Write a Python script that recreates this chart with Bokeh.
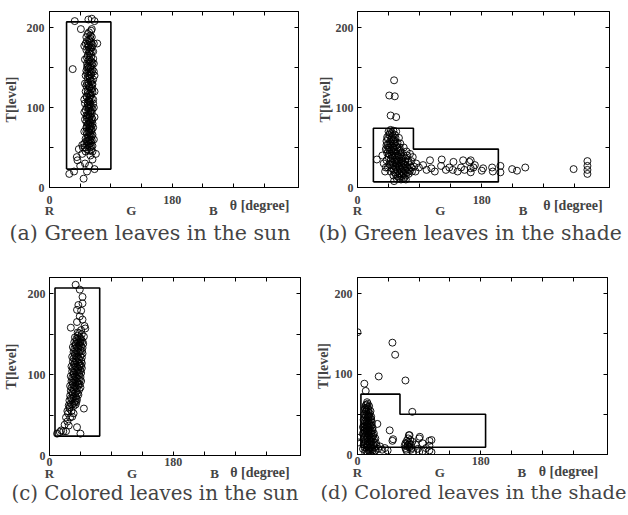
from bokeh.plotting import figure
from bokeh.layouts import column, row
from bokeh.models import LinearAxis, FixedTicker, Range1d
from bokeh.embed import file_html
from bokeh.resources import INLINE

# ---------------- data ----------------
THETA_TICKS = [0, 45, 90, 135, 180, 225, 270, 315]
THETA_LABELS = {0: "0", 180: "180"}
T_TICKS = [0, 50, 100, 150, 200]
T_LABELS = {0: "0", 100: "100", 200: "200"}
HUE_TICKS = [0, 120, 240]
HUE_LABELS = {0: "R", 120: "G", 240: "B"}
X_LABEL = "θ [degree]"
Y_LABEL = "T[level]"

captions = ["(a) Green leaves in the sun", "(b) Green leaves in the shade",
            "(c) Colored leaves in the sun", "(d) Colored leaves in the shade"]

a_pts = [
    (56,192),(60,190),(62,188),(58,185),(55,183),(61,181),(63,178),(57,176),(60,174),(54,172),
    (62,170),(58,168),(56,165),(61,163),(64,161),(57,159),(59,157),(55,155),(62,153),(60,151),
    (57,149),(63,147),(58,145),(55,143),(61,141),(59,139),(56,137),(64,135),(60,133),(57,131),
    (62,129),(54,127),(59,125),(61,123),(56,121),(63,119),(58,117),(60,115),(55,113),(62,111),
    (57,109),(59,107),(64,105),(56,103),(61,101),(58,99),(53,97),(60,95),(62,93),(51,94),
    (57,91),(59,89),(55,87),(63,85),(58,83),(60,81),(56,79),(62,77),(54,75),(59,73),
    (61,71),(57,69),(55,67),(60,65),(58,63),(53,61),(62,59),(56,57),(59,55),(57,53),
    (61,51),(52,50),(49,50),(55,48),(58,46),(65,180),(52,160),(66,140),(52,130),(66,120),
    (51,110),(65,100),(52,85),(66,88),(51,70),(64,75),(53,140),(65,155),(53,180),(58,194),
    (61,196),(60,186),(58,178),(59,170),(61,158),(58,150),(60,142),(57,128),(60,118),(58,108),
    (61,96),(59,78),(58,70),(60,58),(63,66),(54,90),(63,129),(55,150),(64,170),(62,198),
    (54,188),(59,183),(56,179),(62,175),(57,172),(60,167),(55,162),(59,160),(63,156),(56,152),
    (60,148),(54,146),(62,144),(57,140),(59,136),(62,133),(55,130),(58,126),(63,124),(56,118),
    (61,116),(54,114),(59,112),(64,110),(56,106),(60,104),(58,102),(55,100),(63,98),(57,96),
    (60,92),(56,90),(62,87),(58,86),(54,82),(61,84),(57,80),(63,80),(55,76),(60,76),
    (58,74),(62,72),(54,70),(59,68),(62,64),(56,62),(59,60),(54,58),(61,56),(57,59),
    (63,52),(55,53),(59,50),(53,45),(61,47),(51,55),(65,60),(65,145),(53,120),(52,105),
    (37,208),(46,198),(57,210),(62,211),(66,208),(34,148),(51,177),(70,180),(29,17),(36,20),
    (50,11),(41,34),(63,35),(66,23),(43,48),(48,53),(58,27),(45,27),(52,30),(60,40),
    (68,42),(40,38),(55,20),(63,45),(48,42),
]

b_pts = [
    (53,134),(46,115),(54,114),(48,90),(56,88),
    (45,70),(48,72),(52,71),(50,68),(46,66),(54,66),(43,63),(49,62),(55,62),(42,58),
    (47,57),(52,58),(58,56),(44,53),(50,52),(56,52),(61,50),(41,48),(46,47),(53,47),
    (59,46),(64,44),(43,43),(49,42),(55,42),(62,41),(67,40),(45,38),(51,37),(57,37),
    (63,36),(70,36),(42,34),(48,33),(54,32),(60,32),(66,31),(73,31),(46,29),(52,28),
    (58,28),(64,27),(70,27),(76,28),(44,25),(50,24),(56,23),(62,23),(68,22),(74,23),
    (48,20),(54,19),(60,18),(66,18),(72,19),(79,20),(52,15),(58,14),(64,14),(70,15),
    (57,11),(63,10),(68,12),(61,25),(55,35),(59,40),(51,45),(47,50),(53,55),(49,60),
    (47,68),(51,65),(44,61),(53,60),(48,55),(55,57),(45,50),(58,50),(52,50),(49,46),
    (56,45),(62,46),(46,42),(53,40),(60,38),(65,37),(48,36),(58,34),(64,33),(69,33),
    (51,31),(57,30),(63,30),(68,29),(74,33),(48,28),(55,26),(60,27),(66,25),(72,25),
    (52,22),(58,21),(64,20),(70,21),(76,21),(55,17),(61,16),(67,16),(74,17),(60,12),
    (66,11),(50,40),(43,47),(42,53),(56,70),(60,62),(62,55),(67,50),(72,40),(78,25),
    (80,38),(78,33),(82,26),(76,42),(71,45),
    (28,35),(41,25),(53,8),(70,10),(38,30),(36,40),(40,20),(85,30),(89,25),(84,20),
    (95,28),(100,22),
    (105,34),(107,24),(112,20),(122,35),(121,27),(128,22),(133,25),(139,32),(138,22),(145,20),
    (150,25),(153,34),(155,22),(162,32),(164,34),(164,24),(164,19),(168,25),(170,28),(180,21),
    (182,24),(195,25),(196,20),(207,27),(207,19),(224,23),(231,21),(243,25),(313,23),(333,33),
    (333,27),(333,22),(333,17),
]

c_pts = [
    (11,27),(15,29),(20,30),(24,30),(17,31),(28,37),(40,35),(45,27),(22,38),(26,42),
    (24,47),(30,47),(27,52),(33,48),(26,55),(29,58),(32,55),(35,52),(50,58),
    (28,62),(31,64),(35,61),(38,63),(29,68),(33,70),(37,67),(40,69),(30,74),(34,76),
    (38,73),(42,75),(31,80),(35,82),(39,79),(43,81),(30,86),(34,88),(38,85),(42,87),
    (45,84),(32,92),(36,94),(40,91),(44,93),(31,98),(35,100),(39,97),(43,99),(46,102),
    (33,104),(37,106),(41,103),(45,105),(32,110),(36,112),(40,109),(44,111),(47,114),(34,116),
    (38,118),(42,115),(46,117),(33,122),(37,124),(41,121),(45,123),(48,126),(35,128),(39,130),
    (43,127),(47,129),(34,134),(38,136),(42,133),(46,135),(49,138),(36,140),(40,142),(44,139),
    (48,141),(37,146),(41,148),(45,145),(50,147),(43,151),
    (29,60),(33,63),(36,65),(39,66),(31,71),(35,72),(39,71),(33,78),(37,77),(41,77),
    (32,84),(36,86),(40,83),(44,88),(34,90),(38,92),(42,89),(46,92),(33,96),(37,98),
    (41,95),(45,97),(35,102),(39,104),(43,102),(47,108),(34,108),(38,110),(42,107),(46,111),
    (36,114),(40,116),(44,113),(35,120),(39,122),(43,119),(47,121),(37,126),(41,128),(45,130),
    (36,132),(40,134),(44,136),(48,133),(38,138),(42,140),(46,143),(39,144),(43,146),(47,150),
    (41,152),(45,140),
    (46,155),(51,160),(31,158),(40,165),(48,168),(44,172),(40,180),(46,179),(48,188),(48,196),
    (44,205),(38,211),(42,186),(52,157),
]

d_pts = [
    (0,152),(51,139),(55,124),(31,97),(70,92),(10,88),(12,79),(80,53),(0,21),(2,15),
    (29,38),(52,19),(51,17),(47,30),
    (14,65),(15,63),(12,61),(17,60),(13,58),(11,56),(16,56),(19,54),(12,53),(14,50),
    (10,50),(17,49),(20,47),(11,46),(15,45),(9,43),(19,42),(13,40),(21,40),(10,38),
    (15,37),(19,35),(8,34),(13,33),(22,33),(16,31),(10,30),(20,29),(14,27),(8,26),
    (24,26),(17,24),(11,23),(22,22),(14,20),(26,20),(9,19),(19,17),(12,16),(24,15),
    (15,13),(27,14),(9,12),(20,11),(13,9),(25,9),(17,7),(8,7),(22,5),(13,4),
    (18,2),(11,3),(24,3),(30,7),(33,10),(36,6),(40,8),(44,5),(14,35),(16,47),
    (18,28),(11,28),(15,10),(20,20),
    (13,62),(15,59),(11,58),(16,53),(13,55),(18,51),(12,48),(15,48),(18,46),(13,43),
    (16,42),(11,41),(20,44),(14,38),(17,39),(12,36),(18,37),(10,35),(16,34),(21,36),
    (13,30),(18,31),(11,32),(22,30),(15,29),(20,26),(12,25),(16,26),(23,24),(14,22),
    (19,22),(10,21),(17,19),(24,19),(12,18),(21,16),(15,16),(18,13),(11,14),(23,12),
    (14,11),(20,9),(16,5),(21,7),(10,9),(26,5),(19,4),(15,2),(28,11),
    (75,24),(90,20),(105,17),(105,11),(105,5),(73,10),(76,14),(78,6),(81,3),(90,3),
    (70,8),(85,12),(95,14),(100,8),(108,3),(108,18),(91,22),(69,11),(80,16),(88,7),
    (95,4),(72,4),(76,24),(70,14),(72,17),(74,12),(76,9),(78,12),(71,6),(74,20),
    (77,18),(79,8),(73,15),
]

a_reg_theta = [25, 90, 90, 25, 25]
a_reg_T = [23, 23, 207, 207, 23]
b_reg_theta = [23, 23, 81, 81, 204, 204, 23]
b_reg_T = [7, 74, 74, 48, 48, 7, 7]
c_reg_theta = [8, 73, 73, 8, 8]
c_reg_T = [24, 24, 207, 207, 24]
d_reg_theta = [5, 5, 62, 62, 187, 187, 5]
d_reg_T = [9, 75, 75, 50, 50, 9, 9]

SERIF = "Liberation Serif"


def overrides(ticks, labels):
    return {t: labels.get(t, "") for t in ticks}


def label_axis(ticks, labels, size, standoff):
    ax = LinearAxis(ticker=FixedTicker(ticks=ticks, minor_ticks=[]),
                    major_label_overrides=overrides(ticks, labels))
    ax.axis_line_color = None
    ax.major_tick_line_color = None
    ax.minor_tick_line_color = None
    ax.major_tick_in = 0
    ax.major_tick_out = 0
    ax.minor_tick_in = 0
    ax.minor_tick_out = 0
    ax.major_label_standoff = standoff
    ax.major_label_text_font = SERIF
    ax.major_label_text_font_style = "bold"
    ax.major_label_text_font_size = size
    return ax


def make_panel(pts, reg_t, reg_T, caption, g):
    p = figure(frame_width=g["fw"], frame_height=g["fh"],
               min_border_left=g["l"], min_border_right=g["r"],
               min_border_top=g["t"], min_border_bottom=g["b"],
               x_range=Range1d(0, 365), y_range=Range1d(0, 220),
               output_backend="svg", toolbar_location=None,
               title=caption, title_location="below")
    p.grid.visible = False
    p.outline_line_color = "black"
    p.outline_line_width = 1
    p.background_fill_color = "white"
    p.border_fill_color = "white"

    # bottom axis: inward ticks + 0 / 180
    xa = p.xaxis[0]
    xa.ticker = FixedTicker(ticks=THETA_TICKS, minor_ticks=[])
    xa.major_label_overrides = overrides(THETA_TICKS, THETA_LABELS)
    xa.major_tick_in = 4
    xa.major_tick_out = 0
    xa.minor_tick_line_color = None
    xa.minor_tick_in = 0
    xa.minor_tick_out = 0
    xa.major_label_standoff = g["s1"]
    xa.major_label_text_font = SERIF
    xa.major_label_text_font_style = "bold"
    xa.major_label_text_font_size = "12px"
    xa.axis_line_color = "black"

    # theta label row, then R G B row
    p.add_layout(label_axis([g["xl"]], {g["xl"]: X_LABEL}, "14px", g["sth"]), "below")
    p.add_layout(label_axis(HUE_TICKS, HUE_LABELS, "13px", g["s2"]), "below")

    # left axis
    ya = p.yaxis[0]
    ya.ticker = FixedTicker(ticks=T_TICKS, minor_ticks=[])
    ya.major_label_overrides = overrides(T_TICKS, T_LABELS)
    ya.major_tick_in = 4
    ya.major_tick_out = 0
    ya.minor_tick_line_color = None
    ya.minor_tick_in = 0
    ya.minor_tick_out = 0
    ya.major_label_standoff = g["ys"]
    ya.major_label_text_font = SERIF
    ya.major_label_text_font_style = "bold"
    ya.major_label_text_font_size = "12px"
    ya.axis_label = Y_LABEL
    ya.axis_label_text_font = SERIF
    ya.axis_label_text_font_style = "bold"
    ya.axis_label_text_font_size = "14px"
    ya.axis_label_standoff = g["yls"]

    # top / right tick-only axes
    ta = LinearAxis(ticker=FixedTicker(ticks=THETA_TICKS, minor_ticks=[]))
    ra = LinearAxis(ticker=FixedTicker(ticks=T_TICKS, minor_ticks=[]))
    for ax in (ta, ra):
        ax.major_tick_in = 4
        ax.major_tick_out = 0
        ax.minor_tick_line_color = None
        ax.minor_tick_in = 0
        ax.minor_tick_out = 0
        ax.major_label_text_font_size = "0px"
        ax.major_label_text_color = None
        ax.major_label_standoff = 0
        ax.axis_line_color = "black"
    p.add_layout(ta, "above")
    p.add_layout(ra, "right")

    # region
    p.line(reg_t, reg_T, line_color="black", line_width=1.6)
    # points
    p.scatter([q[0] for q in pts], [q[1] for q in pts], marker="circle", size=7,
              fill_color=None, line_color="black", line_width=0.9)

    p.title.text_font = "DejaVu Serif"
    p.title.text_font_style = "normal"
    p.title.text_font_size = g["tf"]
    p.title.align = "left"
    p.title.offset = g["to"]
    p.title.standoff = g["ts"]
    return p


ga = dict(fw=249, fh=176, l=47, r=15, t=11, b=66, s1=8, sth=-9, s2=-13, ts=-3,
          xl=308, to=-40, ys=5, yls=5, tf="20.6px")
gb = dict(fw=252, fh=176, l=44, r=21, t=11, b=66, s1=8, sth=-9, s2=-13, ts=-3,
          xl=312, to=-39, ys=4, yls=0, tf="20.4px")
gc = dict(fw=251, fh=178, l=47, r=11, t=22, b=62, s1=2, sth=-4, s2=-17, ts=-7,
          xl=306, to=-38, ys=4, yls=6, tf="19.8px")
gd = dict(fw=250, fh=177, l=46, r=23, t=24, b=61, s1=2, sth=-4, s2=-17, ts=-7,
          xl=308, to=-37, ys=5, yls=1, tf="19.4px")

pa = make_panel(a_pts, a_reg_theta, a_reg_T, captions[0], ga)
pb = make_panel(b_pts, b_reg_theta, b_reg_T, captions[1], gb)
pc = make_panel(c_pts, c_reg_theta, c_reg_T, captions[2], gc)
pd = make_panel(d_pts, d_reg_theta, d_reg_T, captions[3], gd)

layout = column(row(pa, pb, spacing=0), row(pc, pd, spacing=0), spacing=0)

open("out.html", "w").write(file_html(layout, INLINE))
